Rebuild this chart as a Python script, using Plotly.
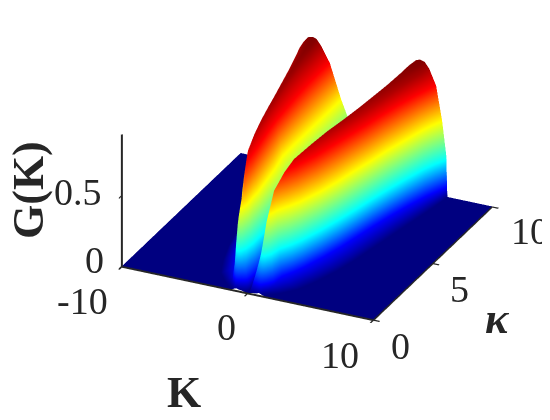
import plotly.graph_objects as go

kappa = [0, .1, .25, .5, 1, 1.5, 2, 3, 4, 5, 6, 7, 8, 9, 9.5, 10]

# K >= 0 half of the surface, the left lobe is its mirror image.
# Each row holds K stations for one kappa, read along the colour bands:
# centre, inner slope, ridge, outer slope, foot of the wall, K = 10
k_rows = [
    [0, .15, .3, .45, .6, .7, .8, .85, .9, .95, 1.0, 1.05, 1.1, 1.15, 1.2, 1.3, 1.4, 10],
    [0, .15, .3, .45, .6, .72, .82, .86, .9, .94, .98, 1.03, 1.08, 1.14, 1.25, 1.4, 1.6, 10],
    [0, .15, .3, .45, .6, .8, .92, .96, 1, 1.04, 1.08, 1.15, 1.22, 1.32, 1.45, 1.6, 1.85, 10],
    [0, .2, .4, .55, .7, .92, 1.03, 1.07, 1.1, 1.14, 1.18, 1.26, 1.38, 1.5, 1.65, 2.0, 2.3, 10],
    [0, .2, .4, .6, .75, 1.0, 1.12, 1.16, 1.2, 1.24, 1.28, 1.36, 1.5, 1.62, 1.8, 2.75, 3.1, 10],
    [0, .25, .5, .75, .95, 1.25, 1.4, 1.46, 1.5, 1.56, 1.62, 1.72, 1.95, 2.1, 2.25, 3.1, 3.5, 10],
    [0, .3, .6, .9, 1.1, 1.5, 1.68, 1.75, 1.8, 1.86, 1.92, 2.02, 2.3, 2.45, 2.6, 3.5, 3.85, 10],
    [0, .35, .7, 1.05, 1.35, 1.9, 2.05, 2.14, 2.2, 2.29, 2.38, 2.5, 2.9, 3.0, 3.15, 4.1, 4.4, 10],
    [0, .4, .75, 1.15, 1.6, 2.2, 2.4, 2.48, 2.55, 2.65, 2.75, 2.9, 3.35, 3.45, 3.6, 4.5, 4.8, 10],
    [0, .5, .9, 1.4, 1.95, 2.45, 2.7, 2.8, 2.9, 3.0, 3.1, 3.3, 3.7, 3.85, 3.95, 4.8, 5.1, 10],
    [0, .5, .95, 1.45, 2.0, 2.6, 3.0, 3.1, 3.2, 3.32, 3.5, 3.7, 4.1, 4.2, 4.3, 5.1, 5.4, 10],
    [0, .5, 1, 1.5, 2.0, 2.75, 3.25, 3.35, 3.45, 3.62, 3.85, 4.05, 4.45, 4.6, 4.7, 5.4, 5.7, 10],
    [0, .5, 1, 1.5, 2, 2.85, 3.45, 3.58, 3.7, 3.92, 4.2, 4.45, 4.9, 5.05, 5.15, 5.75, 6, 10],
    [0, .5, 1, 1.5, 2, 2.9, 3.55, 3.75, 3.95, 4.25, 4.6, 4.95, 5.35, 5.55, 5.7, 6.1, 6.3, 10],
    [0, .5, 1, 1.5, 2, 2.9, 3.6, 3.85, 4.1, 4.45, 4.85, 5.25, 5.65, 5.9, 6.05, 6.3, 6.4, 10],
    [0, .5, 1, 1.5, 2, 2.9, 3.6, 3.95, 4.25, 4.65, 5.0, 5.55, 6.03, 6.36, 6.42, 6.44, 6.46, 10],
]
g_rows = [
    [0, .002, .004, .006, .008, .01, .012, .014, .015, .014, .012, .01, .008, .006, .004, .002, 0, 0],
    [0, .015, .03, .045, .06, .08, .095, .099, .10, .099, .095, .08, .055, .03, .012, .004, 0, 0],
    [0, .045, .09, .135, .17, .25, .285, .297, .30, .297, .285, .25, .17, .08, .03, .01, 0, 0],
    [0, .08, .15, .23, .29, .42, .48, .495, .50, .495, .48, .42, .29, .14, .05, .02, 0, 0],
    [0, .10, .20, .30, .38, .55, .64, .665, .67, .665, .64, .55, .38, .20, .07, .02, 0, 0],
    [0, .12, .24, .36, .46, .66, .72, .75, .76, .75, .72, .66, .46, .24, .07, .02, 0, 0],
    [0, .14, .28, .42, .53, .72, .78, .81, .82, .81, .78, .72, .53, .26, .07, .02, 0, 0],
    [0, .14, .28, .42, .53, .77, .81, .84, .85, .84, .81, .77, .53, .26, .07, .02, 0, 0],
    [0, .14, .28, .42, .53, .77, .83, .86, .87, .86, .83, .77, .53, .26, .07, .02, 0, 0],
    [0, .14, .28, .42, .53, .77, .84, .87, .88, .87, .84, .77, .53, .26, .07, .02, 0, 0],
    [0, .14, .28, .42, .53, .77, .85, .88, .89, .88, .85, .77, .53, .26, .07, .02, 0, 0],
    [0, .14, .28, .42, .53, .77, .86, .89, .90, .89, .86, .77, .53, .26, .07, .02, 0, 0],
    [0, .14, .28, .42, .53, .77, .87, .90, .91, .90, .87, .77, .53, .26, .07, .02, 0, 0],
    [0, .14, .28, .42, .53, .77, .88, .91, .92, .91, .88, .77, .53, .26, .07, .02, 0, 0],
    [0, .14, .28, .42, .53, .77, .88, .92, .925, .92, .88, .77, .53, .26, .07, .02, 0, 0],
    [0, .14, .28, .42, .53, .77, .88, .92, .93, .92, .88, .77, .53, .29, .07, .02, 0, 0],
]

k_ticks = [-10, 0, 10]
kappa_ticks = [0, 5, 10]
g_ticks = [0, .5]
g_tick_text = ["0", "0.5"]

jet_stops = [
    [0, "rgb(0,0,128)"], [.075, "rgb(0,0,255)"], [.28, "rgb(0,255,255)"],
    [.57, "rgb(255,255,0)"], [.83, "rgb(255,0,0)"], [1, "rgb(128,0,0)"],
]

x_all, y_all, z_all = [], [], []
for kap, k_row, g_row in zip(kappa, k_rows, g_rows):
    x_all.append([-k for k in k_row[:0:-1]] + k_row)
    y_all.append([kap] * (2 * len(k_row) - 1))
    z_all.append(g_row[:0:-1] + g_row)

no_highlight = dict(show=False, highlight=False)
fig = go.Figure(go.Surface(
    x=x_all, y=y_all, z=z_all, colorscale=jet_stops, cmin=0, cmax=.93,
    showscale=False, hoverinfo="skip",
    contours=dict(x=no_highlight, y=no_highlight, z=no_highlight),
    lighting=dict(ambient=1, diffuse=0, specular=0, fresnel=0, roughness=1),
))

ink = "#262626"
tick_font = dict(family="Liberation Serif", size=38, color=ink)
title_font = dict(family="Liberation Serif", size=44, color=ink)
axis_common = dict(
    showgrid=False, zeroline=False, showbackground=False, showspikes=False,
    showline=True, linecolor=ink, linewidth=4, ticks="outside", ticklen=7,
    tickcolor=ink, tickwidth=3, showticklabels=False, tickmode="array", title="",
)


def tick_note(x, y, z, text, dx, dy):
    return dict(x=x, y=y, z=z, text=text, showarrow=False, font=tick_font,
                xanchor="center", yanchor="middle", xshift=dx, yshift=dy)


# the page puts the figure 8 px in from the window corner
def title_note(px, py, text, **kw):
    return dict(x=(px - 8) / 542, y=1 - (py - 8) / 412, xref="paper", yref="paper", text=text,
                showarrow=False, font=title_font, xanchor="center", yanchor="middle", **kw)


labels = []
for val, dx, dy in zip(k_ticks, [-39, -21, -33], [-35, -34, -35]):
    labels.append(tick_note(val, 0, 0, str(val), dx, dy))
for val, dx, dy in zip(kappa_ticks, [27, 27, 38], [-26, -26, -25]):
    labels.append(tick_note(10, val, 0, str(val), dx, dy))
for val, txt, dx, dy in zip(g_ticks, g_tick_text, [-27, -44], [6, 3]):
    labels.append(tick_note(-10, 0, val, txt, dx, dy))

fig.update_layout(
    width=542, height=412, paper_bgcolor="white",
    margin=dict(l=0, r=0, t=0, b=0),
    scene=dict(
        domain=dict(x=[.1033, 1], y=[.165, 1]),
        xaxis=dict(axis_common, range=[-10, 10], tickvals=k_ticks),
        yaxis=dict(axis_common, range=[0, 10], tickvals=kappa_ticks),
        zaxis=dict(axis_common, range=[-.004, .93], tickvals=g_ticks),
        aspectmode="manual", aspectratio=dict(x=1.617, y=1.617, z=.86),
        camera=dict(projection=dict(type="orthographic"),
                    eye=dict(x=.76, y=-1.61, z=.837), up=dict(x=0, y=0, z=1),
                    center=dict(x=0, y=0, z=-.06)),
        annotations=labels,
    ),
    annotations=[
        title_note(184, 392, "<b>K</b>"),
        title_note(28, 190, "<b>G(K)</b>", textangle=-90),
        title_note(497, 318, "<b><i>κ</i></b>"),
    ],
)

fig.write_html("out.html")
